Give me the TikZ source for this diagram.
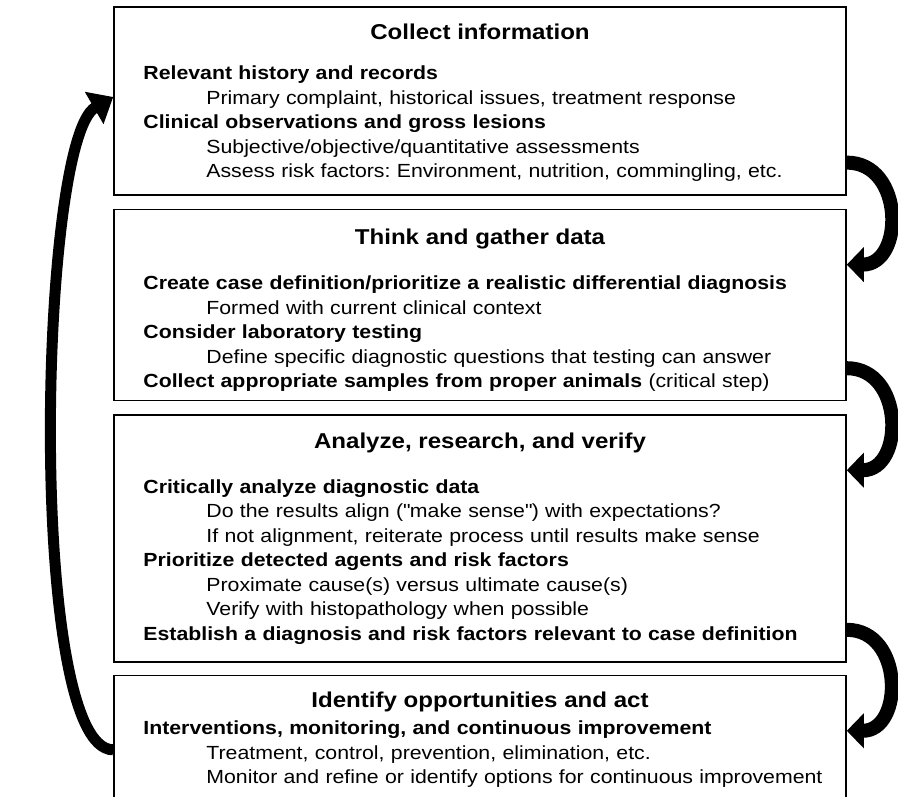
\documentclass[tikz,border=0pt]{standalone}
\usepackage{fontspec}
\setmainfont[FakeStretch=1.12]{Liberation Sans}
\usetikzlibrary{arrows.meta,positioning}
\frenchspacing
\begin{document}
\begin{tikzpicture}[x=1pt,y=1pt,
  stage/.style={draw,line width=1.6pt,minimum width=732pt,inner sep=0pt,anchor=north},
  stagehead/.style={anchor=base,inner sep=0pt,font=\fontsize{21.5}{24}\selectfont\bfseries},
  stagebody/.style={anchor=base west,inner sep=0pt,text width=710pt,align=left,font=\fontsize{19}{24.5}\selectfont},
  turnarrow/.style={line width=14pt,-{Triangle[width=34pt,length=17pt]},out=0,in=0,looseness=1.45},
  backarrow/.style={line width=11pt,-{Triangle[width=36pt,length=22pt]},out=180,in=210,looseness=0.34}]
\useasboundingbox (0,0) rectangle (898,-797);
\node[stage,minimum height=188pt] (b1) at (480,-6) {};
\node[stage,minimum height=191pt,below=13pt of b1] (b2) {};
\node[stage,minimum height=247pt,below=13pt of b2] (b3) {};
\node[stage,minimum height=150pt,below=12pt of b3] (b4) {};
\node[stagehead] (h1) at ([yshift=-34pt]b1.north) {Collect information};
\node[stagehead] (h2) at ([yshift=-36pt]b2.north) {Think and gather data};
\node[stagehead] (h3) at ([yshift=-34pt]b3.north) {Analyze, research, and verify};
\node[stagehead] (h4) at ([yshift=-33pt]b4.north) {Identify opportunities and act};
\node[stagebody] (t1) at ([xshift=30pt,yshift=-74pt]b1.north west) {\textbf{Relevant history and records}\\
  \hspace*{63pt}Primary complaint, historical issues, treatment response\\
  \textbf{Clinical observations and gross lesions}\\
  \hspace*{63pt}Subjective/objective/quantitative assessments\\
  \hspace*{63pt}Assess risk factors: Environment, nutrition, commingling, etc.};
\node[stagebody] (t2) at ([xshift=30pt,yshift=-81pt]b2.north west) {\textbf{Create case definition/prioritize a realistic differential diagnosis}\\
  \hspace*{63pt}Formed with current clinical context\\
  \textbf{Consider laboratory testing}\\
  \hspace*{63pt}Define specific diagnostic questions that testing can answer\\
  \textbf{Collect appropriate samples from proper animals} (critical step)};
\node[stagebody] (t3) at ([xshift=30pt,yshift=-79pt]b3.north west) {\textbf{Critically analyze diagnostic data}\\
  \hspace*{63pt}Do the results align (\textquotedbl make sense\textquotedbl) with expectations?\\
  \hspace*{63pt}If not alignment, reiterate process until results make sense\\
  \textbf{Prioritize detected agents and risk factors}\\
  \hspace*{63pt}Proximate cause(s) versus ultimate cause(s)\\
  \hspace*{63pt}Verify with histopathology when possible\\
  \textbf{Establish a diagnosis and risk factors relevant to case definition}};
\node[stagebody] (t4) at ([xshift=30pt,yshift=-60pt]b4.north west) {\textbf{Interventions, monitoring, and continuous improvement}\\
  \hspace*{63pt}Treatment, control, prevention, elimination, etc.\\
  \hspace*{63pt}Monitor and refine or identify options for continuous improvement};
\draw[turnarrow] ([yshift=33pt]b1.south east) to ([yshift=-56pt]b2.north east);
\draw[turnarrow] ([yshift=33pt]b2.south east) to ([yshift=-56pt]b3.north east);
\draw[turnarrow] ([yshift=33pt]b3.south east) to ([yshift=-56pt]b4.north east);
\draw[backarrow] ([yshift=-75pt]b4.north west) to ([yshift=-91pt]b1.north west);
\end{tikzpicture}
\end{document}
